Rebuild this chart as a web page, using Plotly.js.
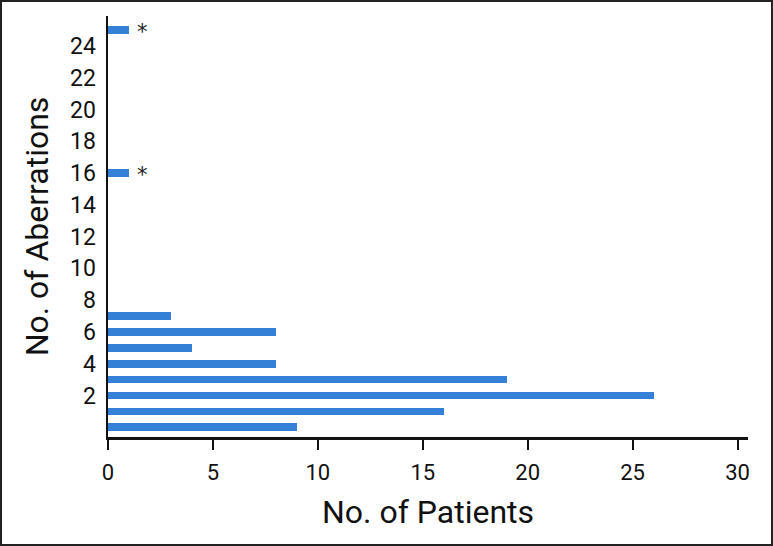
<!DOCTYPE html>
<html>
<head>
<meta charset="utf-8">
<script src="https://cdn.plot.ly/plotly-3.0.1.min.js"></script>
<style>
  html, body { margin: 0; padding: 0; background: #fff; }
  #wrap { position: relative; width: 773px; height: 546px; }
  #chart { width: 773px; height: 546px; }
  #frame { position: absolute; left: 0; top: 0; width: 773px; height: 546px; box-sizing: border-box; border: 2px solid #222; pointer-events: none; }
</style>
</head>
<body>
<div id="wrap">
  <div id="chart"></div>
  <div id="frame"></div>
</div>
<script>
// Data
const aberrations = [0, 1, 2, 3, 4, 5, 6, 7, 16, 25];
const patients    = [9, 16, 26, 19, 8, 4, 8, 3, 1, 1];
const starredAberrations = [16, 25];
const starredPatients    = [1, 1];
const xTickVals = [0, 5, 10, 15, 20, 25, 30];
const yTickVals = [2, 4, 6, 8, 10, 12, 14, 16, 18, 20, 22, 24];

const titleFont = 'Roboto, "Liberation Sans", sans-serif';
const tickFont = 'Roboto, "Liberation Sans", sans-serif';

const trace = {
  type: 'bar',
  orientation: 'h',
  x: patients,
  y: aberrations,
  width: 0.48,
  marker: { color: '#3480d6', line: { width: 0 } },
  hoverinfo: 'x+y'
};

const annotations = starredAberrations.map((a, i) => ({
  x: starredPatients[i], y: a, xref: 'x', yref: 'y',
  text: '*', showarrow: false, xanchor: 'left', yanchor: 'middle',
  xshift: 6, yshift: -2,
  font: { family: 'DejaVu Sans, sans-serif', size: 21, color: '#222' }
}));

const layout = {
  width: 773, height: 546,
  margin: { l: 108, r: 25, t: 16, b: 109 },
  paper_bgcolor: '#fff', plot_bgcolor: '#fff',
  showlegend: false,
  bargap: 0,
  xaxis: {
    range: [0, 30.5],
    tickvals: xTickVals,
    ticks: 'outside', ticklen: 10, tickwidth: 2, tickcolor: '#111',
    showline: true, linewidth: 2.5, linecolor: '#111',
    showgrid: false, zeroline: false,
    ticklabelstandoff: 4,
    tickfont: { family: tickFont, size: 22, color: '#111' },
    title: { text: 'No. of Patients', standoff: 17, font: { family: titleFont, size: 32, color: '#111' } }
  },
  yaxis: {
    range: [-0.61, 25.88],
    tickvals: yTickVals,
    ticks: '',
    showline: true, linewidth: 2.5, linecolor: '#111',
    showgrid: false, zeroline: false,
    ticklabelstandoff: 5,
    tickfont: { family: tickFont, size: 23, color: '#111' },
    title: { text: 'No. of Aberrations', standoff: 12, font: { family: titleFont, size: 32, color: '#111' } }
  },
  annotations: annotations
};

Plotly.newPlot('chart', [trace], layout, { staticPlot: true, displayModeBar: false });
</script>
</body>
</html>
